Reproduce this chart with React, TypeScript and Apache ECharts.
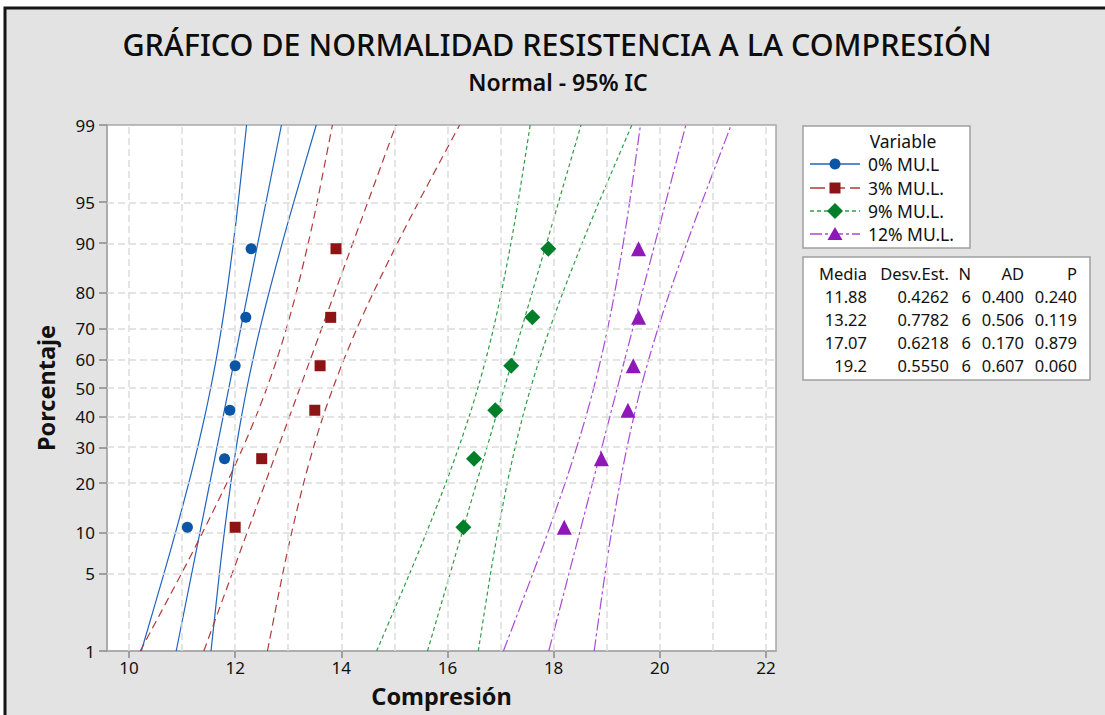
import React, { useEffect, useRef } from "react";
import * as echarts from "echarts";

// ---------- data ----------
const variableNames = ["0% MU.L", "3% MU.L.", "9% MU.L.", "12% MU.L."];
// plotting positions (%) of the 6 ordered observations
const plotPercents = [10.9, 26.6, 42.2, 57.8, 73.4, 89.1];
const obs0 = [11.1, 11.8, 11.9, 12.0, 12.2, 12.3];
const obs3 = [12.0, 12.5, 13.5, 13.6, 13.8, 13.9];
const obs9 = [16.3, 16.5, 16.9, 17.2, 17.6, 17.9];
const obs12 = [18.2, 18.9, 19.4, 19.5, 19.6, 19.6];

// fitted line end points at 1% and 99%
const fitPercents = [1, 99];
const fit0 = [10.889, 12.872];
const fit3 = [11.41, 15.03];
const fit9 = [15.624, 18.517];
const fit12 = [17.909, 20.491];

// 95% confidence bands, x value at each percent level
const bandPercents = [1, 5, 10, 20, 30, 40, 50, 60, 70, 80, 90, 95, 99];
const lower0 = [10.232, 10.656, 10.874, 11.125, 11.293, 11.426, 11.539, 11.642, 11.74, 11.842, 11.966, 12.058, 12.215];
const upper0 = [11.545, 11.702, 11.794, 11.918, 12.02, 12.119, 12.221, 12.335, 12.467, 12.636, 12.886, 13.104, 13.528];
const lower3 = [10.211, 10.985, 11.382, 11.841, 12.148, 12.39, 12.597, 12.785, 12.964, 13.15, 13.377, 13.545, 13.832];
const upper3 = [12.608, 12.895, 13.063, 13.29, 13.476, 13.655, 13.843, 14.05, 14.292, 14.6, 15.058, 15.455, 16.229];
const lower9 = [14.666, 15.284, 15.602, 15.968, 16.213, 16.407, 16.572, 16.722, 16.866, 17.014, 17.196, 17.33, 17.559];
const upper9 = [16.581, 16.81, 16.945, 17.126, 17.275, 17.418, 17.568, 17.733, 17.927, 18.172, 18.538, 18.856, 19.474];
const lower12 = [17.054, 17.606, 17.889, 18.216, 18.435, 18.608, 18.756, 18.889, 19.017, 19.15, 19.312, 19.432, 19.636];
const upper12 = [18.764, 18.968, 19.088, 19.25, 19.383, 19.511, 19.644, 19.792, 19.965, 20.184, 20.511, 20.794, 21.346];

// axes
const yTickPercents = [1, 5, 10, 20, 30, 40, 50, 60, 70, 80, 90, 95, 99];
const yGridPercents = [5, 10, 20, 30, 40, 50, 60, 70, 80, 90, 95];
const xTickValues = [10, 12, 14, 16, 18, 20, 22];
const xGridValues = [10, 11, 12, 13, 14, 15, 16, 17, 18, 19, 20, 21, 22];

// statistics table
const statHeaders = ["Media", "Desv.Est.", "N", "AD", "P"];
const statMedia = ["11.88", "13.22", "17.07", "19.2"];
const statDesv = ["0.4262", "0.7782", "0.6218", "0.5550"];
const statN = ["6", "6", "6", "6"];
const statAD = ["0.400", "0.506", "0.170", "0.607"];
const statP = ["0.240", "0.119", "0.879", "0.060"];

// ---------- styles ----------
const FONT = '"Noto Sans", "Open Sans", sans-serif';
const styles = [
  { marker: "circle", mColor: "#0A55A6", lColor: "#1F63BE", dash: "solid" as any, size: 11 },
  { marker: "rect", mColor: "#8C1414", lColor: "#B03A3A", dash: [8, 5], size: 11 },
  { marker: "diamond", mColor: "#007F2A", lColor: "#2E9E45", dash: [4, 3], size: 16 },
  { marker: "triangle", mColor: "#8E18B8", lColor: "#A84AD6", dash: [12, 3, 3, 3], size: 15 },
];

// inverse standard normal CDF (probability-scale transform)
function probit(p: number): number {
  const a = [-3.969683028665376e1, 2.209460984245205e2, -2.759285104469687e2, 1.38357751867269e2, -3.066479806614716e1, 2.506628277459239];
  const b = [-5.447609879822406e1, 1.615858368580409e2, -1.556989798598866e2, 6.680131188771972e1, -1.328068155288572e1];
  const c = [-7.784894002430293e-3, -3.223964580411365e-1, -2.400758277161838, -2.549732539343734, 4.374664141464968, 2.938163982698783];
  const d = [7.784695709041462e-3, 3.224671290700398e-1, 2.445134137142996, 3.754408661907416];
  const pl = 0.02425;
  if (p < pl) {
    const q = Math.sqrt(-2 * Math.log(p));
    return (((((c[0] * q + c[1]) * q + c[2]) * q + c[3]) * q + c[4]) * q + c[5]) / ((((d[0] * q + d[1]) * q + d[2]) * q + d[3]) * q + 1);
  }
  if (p <= 1 - pl) {
    const q = p - 0.5;
    const r = q * q;
    return ((((((a[0] * r + a[1]) * r + a[2]) * r + a[3]) * r + a[4]) * r + a[5]) * q) / (((((b[0] * r + b[1]) * r + b[2]) * r + b[3]) * r + b[4]) * r + 1);
  }
  const q = Math.sqrt(-2 * Math.log(1 - p));
  return -(((((c[0] * q + c[1]) * q + c[2]) * q + c[3]) * q + c[4]) * q + c[5]) / ((((d[0] * q + d[1]) * q + d[2]) * q + d[3]) * q + 1);
}
const zOf = (pct: number) => probit(pct / 100);

export default function App() {
  const ref = useRef<HTMLDivElement>(null);

  useEffect(() => {
    if (!ref.current) return;
    const chart = echarts.init(ref.current, undefined, { renderer: "svg" });

    const obs = [obs0, obs3, obs9, obs12];
    const fits = [fit0, fit3, fit9, fit12];
    const lows = [lower0, lower3, lower9, lower12];
    const ups = [upper0, upper3, upper9, upper12];

    const yTickZ = yTickPercents.map(zOf);
    const yMin = zOf(1);
    const yMax = zOf(99);

    const series: any[] = [];
    // grid lines
    series.push({
      type: "scatter",
      data: [],
      silent: true,
      z: 1,
      markLine: {
        silent: true,
        symbol: ["none", "none"],
        label: { show: false },
        lineStyle: { color: "#DCDCDC", width: 1.5, type: [7, 4] },
        data: [
          ...xGridValues.map((v) => ({ xAxis: v })),
          ...yGridPercents.map((p) => ({ yAxis: zOf(p) })),
        ],
      },
    });

    obs.forEach((o, k) => {
      const st = styles[k];
      const lineCommon = {
        type: "line",
        showSymbol: false,
        symbol: "none",
        silent: true,
        z: 3,
        lineStyle: { color: st.lColor, width: 1.2, type: st.dash },
      };
      series.push({ ...lineCommon, name: variableNames[k] + " fit", data: fitPercents.map((p, i) => [fits[k][i], zOf(p)]) });
      series.push({ ...lineCommon, name: variableNames[k] + " low", smooth: 0.3, data: bandPercents.map((p, i) => [lows[k][i], zOf(p)]) });
      series.push({ ...lineCommon, name: variableNames[k] + " up", smooth: 0.3, data: bandPercents.map((p, i) => [ups[k][i], zOf(p)]) });
      series.push({
        type: "scatter",
        name: variableNames[k],
        z: 5,
        symbol: st.marker,
        symbolSize: st.size,
        itemStyle: { color: st.mColor, opacity: 1 },
        data: o.map((x, i) => [x, zOf(plotPercents[i])]),
      });
    });

    // legend & table graphics
    const g: any[] = [];
    g.push({
      type: "rect",
      z: -100,
      shape: { x: 5, y: 8, width: 1110, height: 720 },
      style: { fill: "#E3E3E3", stroke: "#151515", lineWidth: 3 },
    });
    g.push({
      type: "text",
      x: 557,
      y: 44,
      style: { text: "GRÁFICO DE NORMALIDAD RESISTENCIA A LA COMPRESIÓN", fill: "#0d0d0d", fontSize: 30.5, fontWeight: 500, lineHeight: 28, fontFamily: FONT, textAlign: "center", textVerticalAlign: "middle" },
    });
    g.push({
      type: "text",
      x: 558,
      y: 82,
      style: { text: "Normal - 95% IC", fill: "#0d0d0d", fontSize: 23, fontWeight: 600, lineHeight: 22, fontFamily: FONT, textAlign: "center", textVerticalAlign: "middle" },
    });
    // legend box
    g.push({ type: "rect", shape: { x: 803, y: 126, width: 167, height: 122 }, style: { fill: "#fff", stroke: "#A0A0A0", lineWidth: 1.5 } });
    g.push({ type: "text", x: 903, y: 141, style: { text: "Variable", fill: "#111", fontSize: 17.5, fontFamily: FONT, textAlign: "center", textVerticalAlign: "middle" } });
    const rowY = [164, 188, 211, 234];
    variableNames.forEach((nm, k) => {
      const st = styles[k];
      const y = rowY[k];
      g.push({
        type: "line",
        shape: { x1: 810, y1: y, x2: 860, y2: y },
        style: { stroke: st.lColor, lineWidth: 1.5, lineDash: st.dash === "solid" ? null : k === 1 ? [15, 5] : st.dash },
      });
      const cx = 835;
      if (st.marker === "circle") g.push({ type: "circle", shape: { cx, cy: y, r: 5.5 }, style: { fill: st.mColor } });
      else if (st.marker === "rect") g.push({ type: "rect", shape: { x: cx - 5.5, y: y - 5.5, width: 11, height: 11 }, style: { fill: st.mColor } });
      else if (st.marker === "diamond")
        g.push({ type: "polygon", shape: { points: [[cx, y - 8], [cx + 8, y], [cx, y + 8], [cx - 8, y]] }, style: { fill: st.mColor } });
      else g.push({ type: "polygon", shape: { points: [[cx, y - 7], [cx + 7.5, y + 6], [cx - 7.5, y + 6]] }, style: { fill: st.mColor } });
      g.push({ type: "text", x: 868, y, style: { text: nm, fill: "#111", fontSize: 17.5, fontFamily: FONT, textAlign: "left", textVerticalAlign: "middle" } });
    });
    // stats box
    g.push({ type: "rect", shape: { x: 803, y: 257, width: 287, height: 123 }, style: { fill: "#fff", stroke: "#A0A0A0", lineWidth: 1.5 } });
    const colRight = [867, 949, 971, 1024, 1077];
    const cols = [statMedia, statDesv, statN, statAD, statP];
    statHeaders.forEach((h, c) => {
      g.push({ type: "text", x: colRight[c], y: 273, style: { text: h, fill: "#111", fontSize: 16.5, fontFamily: FONT, textAlign: "right", textVerticalAlign: "middle" } });
    });
    const statRowY = [296, 319, 342, 365];
    cols.forEach((col, c) => {
      col.forEach((v, r) => {
        g.push({ type: "text", x: colRight[c], y: statRowY[r], style: { text: v, fill: "#111", fontSize: 16.5, fontFamily: FONT, textAlign: "right", textVerticalAlign: "middle" } });
      });
    });

    chart.setOption({
      animation: false,
      backgroundColor: "#ffffff",
      textStyle: { fontFamily: FONT },
      grid: {
        left: 107, top: 125, width: 669, height: 526,
        containLabel: false, outerBoundsMode: "none",
        show: true, backgroundColor: "#ffffff", borderColor: "#A8A8A8", borderWidth: 1.5,
      },
      xAxis: {
        type: "value",
        min: 9.585,
        max: 22.19,
        name: "Compresión",
        nameLocation: "middle",
        nameGap: 33,
        nameTextStyle: { fontSize: 23.5, fontWeight: "bold", color: "#111", fontFamily: FONT },
        axisLine: { show: true, onZero: false, lineStyle: { color: "#A8A8A8", width: 1.5 } },
        axisTick: { show: true, customValues: xTickValues, length: 7, lineStyle: { color: "#8A8A8A", width: 1.5 } },
        axisLabel: { customValues: xTickValues, fontSize: 17, color: "#111", margin: 8, fontFamily: FONT },
        splitLine: { show: false },
      },
      yAxis: {
        type: "value",
        min: yMin,
        max: yMax,
        name: "Porcentaje",
        nameLocation: "middle",
        nameGap: 49,
        nameTextStyle: { fontSize: 23.5, fontWeight: "bold", color: "#111", fontFamily: FONT },
        axisLine: { show: true, onZero: false, lineStyle: { color: "#A8A8A8", width: 1.5 } },
        axisTick: { show: true, customValues: yTickZ, length: 8, lineStyle: { color: "#8A8A8A", width: 1.5 } },
        axisLabel: {
          customValues: yTickZ,
          fontSize: 17,
          color: "#111",
          margin: 12,
          fontFamily: FONT,
          formatter: (v: number) => {
            let best = yTickPercents[0];
            let bd = Infinity;
            yTickPercents.forEach((p) => {
              const dd = Math.abs(zOf(p) - v);
              if (dd < bd) { bd = dd; best = p; }
            });
            return String(best);
          },
        },
        splitLine: { show: false },
      },
      graphic: { elements: g },
      series,
    });

    return () => chart.dispose();
  }, []);

  return (
    <div style={{ position: "fixed", left: 0, top: 0, width: 1105, height: 715, background: "#fff" }}>
      <div ref={ref} style={{ width: 1105, height: 715 }} />
    </div>
  );
}
